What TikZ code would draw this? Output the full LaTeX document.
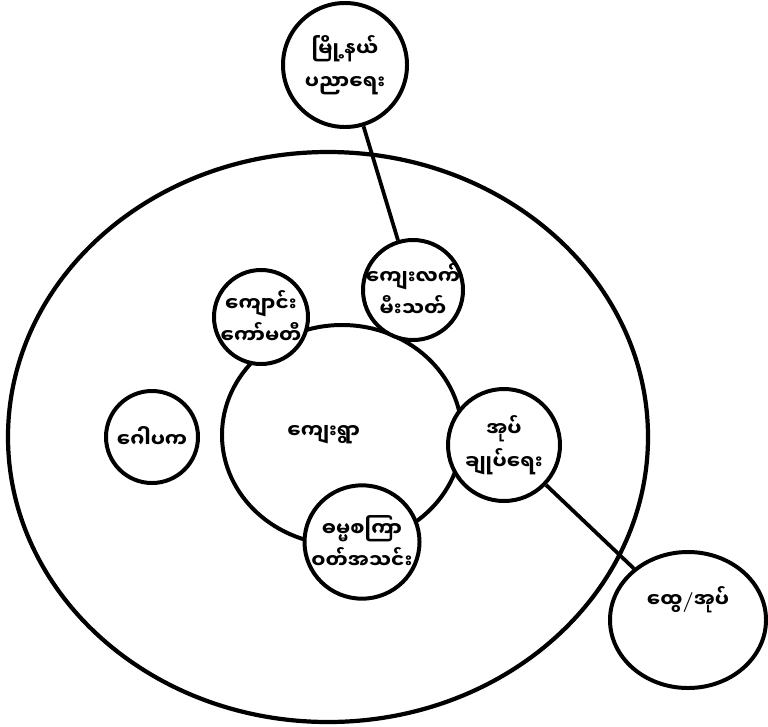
\documentclass[tikz,border=0pt]{standalone}
\usepackage{fontspec}
\newfontfamily\mmfont[Script=Myanmar]{Noto Sans Myanmar UI}
\usetikzlibrary{shapes.geometric}

\begin{document}
\begin{tikzpicture}[x=0.03cm,y=-0.03cm,
    ring/.style={ellipse,draw,line width=3.4pt,fill=white,inner sep=-16pt,
      font=\mmfont\bfseries\fontsize{17}{28}\selectfont,align=center},
    link/.style={line width=3.2pt}]
        \useasboundingbox (0,0) rectangle (768,726);
        \draw[line width=3.6pt] (328,437) ellipse (320 and 285);
        \node[ring,minimum width=7.2cm,minimum height=6.6cm] (village) at (342,435) {ကျေးရွာ\hspace{1.1cm}};
        \node[ring,minimum width=3.72cm,minimum height=3.72cm] (township) at (345,65) {မြို့နယ်\\ပညာရေး};
        \node[ring,minimum width=3.0cm,minimum height=3.0cm] (fire) at (413,290) {ကျေးလက်\\မီးသတ်};
        \node[ring,minimum width=2.82cm,minimum height=2.82cm] (school) at (261,317) {ကျောင်း\\ကော်မတီ};
        \node[ring,minimum width=2.76cm,minimum height=2.76cm] (trustee) at (152,437) {ဂေါပက};
        \node[ring,minimum width=3.36cm,minimum height=3.36cm] (admin) at (504,445) {အုပ်\\ချုပ်ရေး};
        \node[ring,minimum width=3.45cm,minimum height=3.4cm] (dhamma) at (362,542) {ဓမ္မစကြာ\\ဝတ်အသင်း};
        \node[ring,minimum width=4.68cm,minimum height=4.08cm] (gad) at (688,620) {ထွေ{\normalfont\bfseries /}အုပ်\\[0.4cm]};
        \draw[link] (township) -- (fire);
        \draw[link] (admin) -- (gad);
\end{tikzpicture}
\end{document}
